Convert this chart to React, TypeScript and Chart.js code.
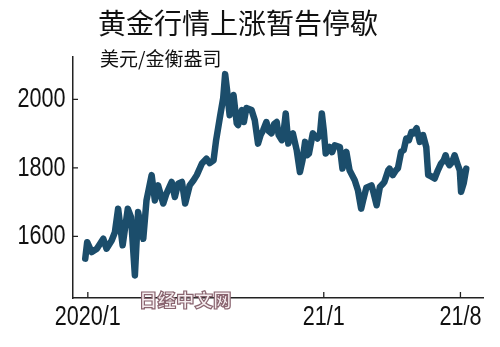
import React, { useEffect, useRef } from "react";
import { Chart, registerables } from "chart.js";

Chart.register(...registerables);

const titleText = "黄金行情上涨暂告停歇";
const unitText = "美元/金衡盎司";
const watermarkText = "日经中文网";

// days since 2020-01-01
const days = [
  -4, -1, 6, 14, 24, 29, 37, 42, 47, 54, 62, 67, 73, 78, 86, 91, 99, 104, 109, 117,
  122, 130, 135, 140, 146, 151, 158, 164, 169, 177, 184, 189, 195, 199, 205, 210, 213, 216, 218, 220,
  226, 231, 233, 239, 242, 246, 254, 259, 264, 268, 272, 277, 281, 285, 289, 293, 296, 301, 304, 307,
  311, 314, 318, 324, 329, 333, 337, 340, 343, 349, 356, 360, 363, 366, 369, 375, 379, 383, 391, 395,
  401, 406, 414, 419, 424, 427, 432, 440, 443, 448, 453, 457, 460, 466, 468, 473, 478, 481, 486, 490,
  494, 498, 502, 505, 510, 515, 520, 525, 528, 532, 538, 543, 548, 552, 555, 558, 561, 565, 569, 574,
  577, 579, 583, 587,
];
// USD per troy ounce
const prices = [
  1535, 1583, 1554, 1564, 1593, 1564, 1588, 1612, 1681, 1574, 1681, 1656, 1486, 1671, 1593, 1705, 1779, 1705, 1749, 1696,
  1725, 1759, 1715, 1754, 1759, 1696, 1749, 1764, 1779, 1813, 1827, 1814, 1822, 1881, 1949, 2004, 2074, 2027, 1988, 1954,
  2013, 1930, 1925, 1969, 1934, 1975, 1969, 1939, 1871, 1896, 1910, 1934, 1907, 1901, 1928, 1934, 1896, 1881, 1910, 1959,
  1871, 1896, 1901, 1852, 1788, 1822, 1876, 1837, 1842, 1901, 1886, 1896, 1959, 1910, 1842, 1861, 1846, 1866, 1861, 1798,
  1847, 1793, 1764, 1735, 1681, 1705, 1742, 1749, 1729, 1691, 1744, 1752, 1759, 1793, 1798, 1779, 1793, 1799, 1847, 1852,
  1886, 1881, 1905, 1901, 1916, 1876, 1896, 1861, 1779, 1776, 1769, 1793, 1813, 1822, 1837, 1817, 1808, 1817, 1837, 1808,
  1793, 1730, 1755, 1798,
];

const yTicks = [1600, 1800, 2000];
const xTickDays = [0, 366, 578];
const xTickLabels = ["2020/1", "21/1", "21/8"];

const tickFont = '27px "Liberation Sans", Arial, sans-serif';
const cjkFont = '"Noto Sans CJK SC", "Noto Sans", sans-serif';

// inward tick marks + condensed tick labels, placed with the chart's own scales
const axisDecor = {
  id: "axisDecor",
  afterDraw(chart: any) {
    const { ctx, chartArea, scales } = chart;
    ctx.save();
    ctx.strokeStyle = "#222";
    ctx.lineWidth = 1.3;
    ctx.beginPath();
    for (const v of yTicks) {
      const y = scales.y.getPixelForValue(v);
      ctx.moveTo(chartArea.left, y);
      ctx.lineTo(chartArea.left + 5, y);
    }
    for (const d of xTickDays) {
      const x = scales.x.getPixelForValue(d);
      ctx.moveTo(x, chartArea.bottom);
      ctx.lineTo(x, chartArea.bottom - 6);
    }
    ctx.stroke();

    ctx.fillStyle = "#111";
    ctx.font = tickFont;
    ctx.textBaseline = "middle";
    ctx.textAlign = "right";
    for (const v of yTicks) {
      const y = scales.y.getPixelForValue(v);
      ctx.save();
      ctx.translate(chartArea.left - 7.5, y + 0.5);
      ctx.scale(0.8, 1);
      ctx.fillText(String(v), 0, 0);
      ctx.restore();
    }
    ctx.textAlign = "center";
    xTickDays.forEach((d, i) => {
      const x = scales.x.getPixelForValue(d);
      ctx.save();
      ctx.translate(x, chartArea.bottom + 20);
      ctx.scale(0.8, 1);
      ctx.fillText(xTickLabels[i], 0, 0);
      ctx.restore();
    });
    ctx.restore();
  },
};

export default function App() {
  const ref = useRef<HTMLCanvasElement>(null);

  useEffect(() => {
    if (!ref.current) return;
    const chart = new Chart(ref.current, {
      type: "line",
      data: {
        datasets: [
          {
            data: days.map((d, i) => ({ x: d, y: prices[i] })),
            borderColor: "#1b4d6b",
            borderWidth: 6.5,
            borderJoinStyle: "round",
            borderCapStyle: "round",
            pointRadius: 0,
            tension: 0,
          },
        ],
      },
      options: {
        animation: false,
        responsive: false,
        events: [],
        layout: { padding: { top: 57, right: 17, left: 0, bottom: 0 } },
        plugins: { legend: { display: false }, tooltip: { enabled: false } },
        scales: {
          x: {
            type: "linear",
            min: -23,
            max: 613,
            afterFit(scale: any) {
              scale.height = 49;
            },
            afterBuildTicks(scale: any) {
              scale.ticks = xTickDays.map((v) => ({ value: v }));
            },
            ticks: { display: false },
            grid: { display: false, drawOnChartArea: false, tickLength: 0 },
            border: { display: true, color: "#222", width: 1.5 },
          },
          y: {
            type: "linear",
            min: 1420,
            max: 2124,
            afterFit(scale: any) {
              scale.width = 73;
            },
            afterBuildTicks(scale: any) {
              scale.ticks = yTicks.map((v) => ({ value: v }));
            },
            ticks: { display: false },
            grid: { display: false, drawOnChartArea: false, tickLength: 0 },
            border: { display: true, color: "#222", width: 1.5 },
          },
        },
      },
      plugins: [axisDecor],
    } as any);
    return () => chart.destroy();
  }, []);

  return (
    <div style={{ position: "fixed", left: 0, top: 0, width: 500, height: 347, background: "#fff" }}>
      <canvas ref={ref} width={500} height={347} style={{ display: "block" }} />
      <div
        style={{
          position: "absolute",
          left: 98,
          top: 2,
          fontFamily: cjkFont,
          fontSize: 28,
          lineHeight: "40px",
          color: "#111",
          whiteSpace: "nowrap",
        }}
      >
        {titleText}
      </div>
      <div
        style={{
          position: "absolute",
          left: 100,
          top: 44,
          fontFamily: cjkFont,
          fontSize: 19,
          lineHeight: "28px",
          color: "#111",
          whiteSpace: "nowrap",
        }}
      >
        {unitText}
      </div>
      <div
        style={{
          position: "absolute",
          left: 139,
          top: 286,
          fontFamily: cjkFont,
          fontSize: 18.5,
          fontWeight: 900,
          lineHeight: "26px",
          color: "#f6eef0",
          WebkitTextStroke: "1.2px #8a6570",
          whiteSpace: "nowrap",
        }}
      >
        {watermarkText}
      </div>
    </div>
  );
}
